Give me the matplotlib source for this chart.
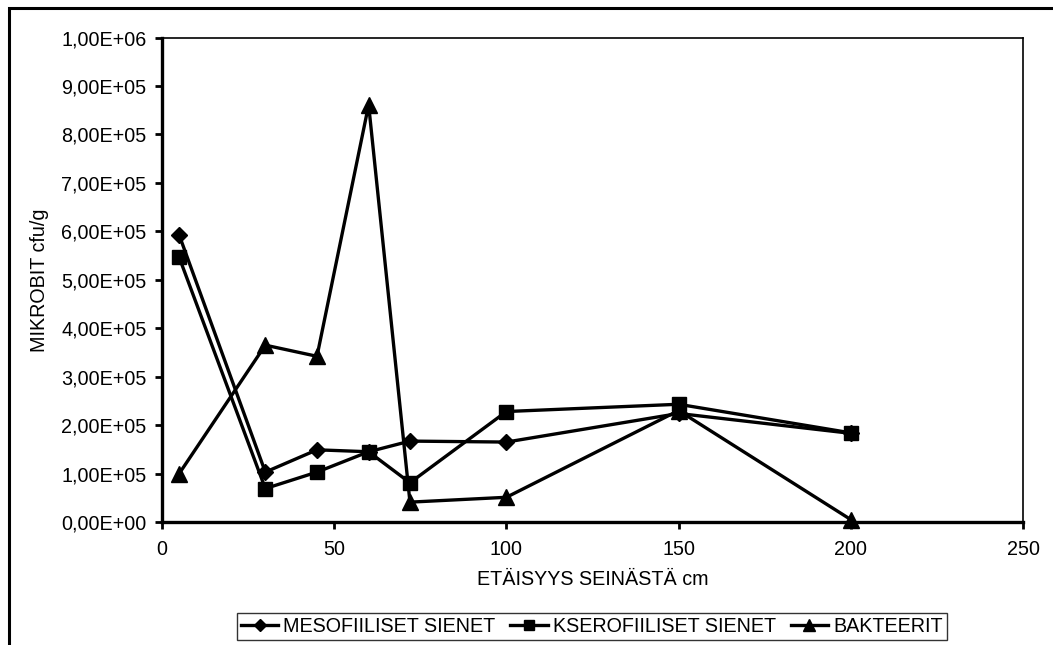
import matplotlib
matplotlib.use('Agg')
import matplotlib.pyplot as plt
from matplotlib.patches import Rectangle
from matplotlib.ticker import FuncFormatter, MultipleLocator

plt.rcParams['font.family'] = ['Liberation Sans', 'DejaVu Sans']

# Etäisyys seinästä (cm)
etaisyys = [5, 30, 45, 60, 72, 100, 150, 200]

# Mikrobit cfu/g
mesofiiliset = [5.92e5, 1.03e5, 1.49e5, 1.45e5, 1.67e5, 1.65e5, 2.24e5, 1.83e5]
kserofiiliset = [5.46e5, 0.69e5, 1.03e5, 1.45e5, 0.81e5, 2.28e5, 2.43e5, 1.84e5]
bakteerit = [1.0e5, 3.65e5, 3.42e5, 8.61e5, 0.41e5, 0.51e5, 2.30e5, 0.05e5]

sarjat = ['MESOFIILISET SIENET', 'KSEROFIILISET SIENET', 'BAKTEERIT']

fig = plt.figure(figsize=(10.53, 6.45), dpi=100)
ax = fig.add_axes([162 / 1053, 1 - 522 / 645, (1023 - 162) / 1053, (522 - 37.5) / 645])

# kuvan reunaviiva (vasen ja ylä)
fig.patches.append(Rectangle((9 / 1053, -0.1), 1.2, 1 - 8 / 645 + 0.1,
                             transform=fig.transFigure, fill=False,
                             edgecolor='black', linewidth=2.2, zorder=0))

fs = 14.2
ax.plot(etaisyys, mesofiiliset, color='black', lw=2.4, marker='D', ms=8,
        label=sarjat[0], clip_on=False, zorder=3)
ax.plot(etaisyys, kserofiiliset, color='black', lw=2.4, marker='s', ms=10,
        label=sarjat[1], clip_on=False, zorder=3)
ax.plot(etaisyys, bakteerit, color='black', lw=2.4, marker='^', ms=11,
        label=sarjat[2], clip_on=False, zorder=3)

ax.set_xlim(0, 250)
ax.set_ylim(0, 1e6)
ax.xaxis.set_major_locator(MultipleLocator(50))
ax.yaxis.set_major_locator(MultipleLocator(1e5))
ax.yaxis.set_major_formatter(FuncFormatter(lambda v, p: f'{v:.2E}'.replace('.', ',')))

ax.spines['left'].set_linewidth(2.4)
ax.spines['bottom'].set_linewidth(2.4)
ax.spines['top'].set_linewidth(1.2)
ax.spines['right'].set_linewidth(1.2)
ax.tick_params(axis='both', direction='out', length=5, width=2, labelsize=fs, colors='black')
ax.tick_params(axis='y', pad=6)
ax.tick_params(axis='x', pad=8)

ax.set_xlabel('ETÄISYYS SEINÄSTÄ cm', fontsize=fs, labelpad=8)
ax.set_ylabel('MIKROBIT cfu/g', fontsize=fs, labelpad=9)

leg = fig.legend(loc='upper left', bbox_to_anchor=(237 / 1053, 1 - 613 / 645),
                 ncol=3, fontsize=fs, frameon=True, fancybox=False,
                 edgecolor='black', borderaxespad=0, handlelength=1.9,
                 handletextpad=0.25, columnspacing=0.75, borderpad=0.2,
                 markerscale=0.75)
leg.get_frame().set_linewidth(1.0)

fig.savefig('out.png', dpi=100)
